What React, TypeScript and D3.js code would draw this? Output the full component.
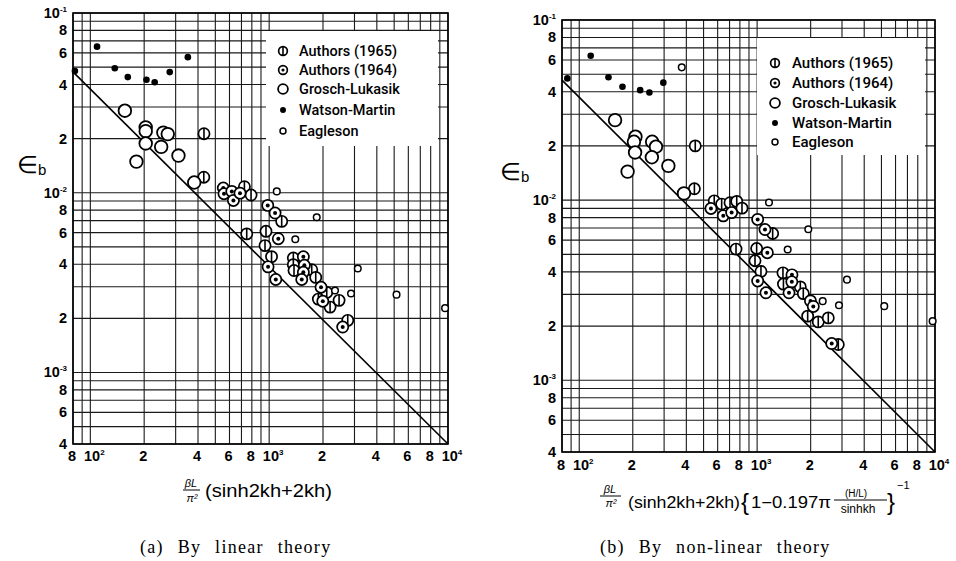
import React from 'react';
import * as d3 from 'd3';

// ---------- tick labels ----------
const xTickValues = [80, 100, 200, 400, 600, 800, 1000, 2000, 4000, 6000, 8000, 10000];
const xTickBase = ['8', '10', '2', '4', '6', '8', '10', '2', '4', '6', '8', '10'];
const xTickSup = ['', '2', '', '', '', '', '3', '', '', '', '', '4'];
const yTickValues = [0.1, 0.08, 0.06, 0.04, 0.02, 0.01, 0.008, 0.006, 0.004, 0.002, 0.001, 0.0008, 0.0006, 0.0004];
const yTickBase = ['10', '8', '6', '4', '2', '10', '8', '6', '4', '2', '10', '8', '6', '4'];
const yTickSup = ['-1', '', '', '', '', '-2', '', '', '', '', '-3', '', '', ''];

const seriesNames = ['Authors (1965)', 'Authors (1964)', 'Grosch-Lukasik', 'Watson-Martin', 'Eagleson'];
const seriesKeys = ['a65', 'a64', 'gl', 'wm', 'eg'];

// ---------- (a) linear theory ----------
const linA1965 = [[432, 0.0213], [431, 0.0122], [727, 0.0108], [792, 0.00971], [1175, 0.00693], [749, 0.0059], [960, 0.0061], [948, 0.00508], [1031, 0.00441], [1365, 0.00433], [1365, 0.00398], [1377, 0.00369], [1730, 0.00373], [1821, 0.00338], [2099, 0.00279], [1884, 0.00256], [2191, 0.00231], [2460, 0.00252], [2750, 0.00195]];
const linA1964 = [[554, 0.01062], [559, 0.00987], [618, 0.01017], [631, 0.00906], [687, 0.00995], [982, 0.0085], [1079, 0.00771], [1125, 0.00555], [986, 0.00387], [1089, 0.00329], [1553, 0.0044], [1573, 0.00395], [1553, 0.00361], [1521, 0.00329], [1950, 0.00298], [1995, 0.00249], [2578, 0.00179]];
const linGL = [[156, 0.0286], [204, 0.0231], [204, 0.022], [204, 0.0188], [256, 0.0216], [271, 0.0212], [249, 0.018], [311, 0.0161], [181, 0.0149], [381, 0.0114]];
const linWM = [[82, 0.0476], [109, 0.065], [137, 0.0493], [162, 0.044], [206, 0.0425], [229, 0.0412], [278, 0.0469], [351, 0.0568]];
const linEG = [[1103, 0.01017], [1845, 0.0073], [1400, 0.00551], [3130, 0.00379], [2335, 0.00286], [2870, 0.00275], [5155, 0.00271], [9630, 0.00228]];
const linFit = [[80, 0.047], [10000, 0.0004]];

// ---------- (b) non-linear theory ----------
const nlA1965 = [[449, 0.02], [444, 0.01156], [574, 0.00991], [632, 0.00951], [704, 0.00968], [768, 0.00984], [822, 0.00903], [1223, 0.00653], [761, 0.00535], [994, 0.00539], [973, 0.00461], [1051, 0.00402], [1397, 0.00395], [1406, 0.00342], [1749, 0.0033], [1818, 0.00303], [1924, 0.00227], [2206, 0.00211], [2512, 0.00222], [2860, 0.00158]];
const nlA1964 = [[550, 0.00899], [645, 0.00818], [719, 0.00853], [1007, 0.00782], [1107, 0.00687], [1141, 0.00511], [1007, 0.00356], [1121, 0.00306], [1570, 0.00385], [1567, 0.00352], [1511, 0.00306], [1995, 0.00276], [2069, 0.00257], [2626, 0.0016]];
const nlGL = [[159, 0.0278], [207, 0.0225], [203, 0.0211], [257, 0.0211], [270, 0.0198], [206, 0.0184], [256, 0.0173], [187, 0.0144], [317, 0.0155], [388, 0.0109]];
const nlWM = [[85.7, 0.0474], [116, 0.0633], [146, 0.0481], [175, 0.0426], [220, 0.0408], [248, 0.0396], [297, 0.0449]];
const nlEG = [[377, 0.0546], [1166, 0.0097], [1940, 0.0069], [1485, 0.00532], [2337, 0.00275], [2885, 0.00261], [3200, 0.00362], [5186, 0.00258], [9700, 0.00213]];
const nlFit = [[80, 0.0464], [10000, 0.0004]];

const SANS = "'Liberation Sans', Arial, sans-serif";
const LEG = "Roboto, 'Liberation Sans', sans-serif";
const SERIF = "'Liberation Serif', 'DejaVu Serif', serif";

function Marker({ type, cx, cy, s = 1 }: { type: string; cx: number; cy: number; s?: number }) {
  if (type === 'a65') {
    const r = 5.6 * s;
    return (
      <g>
        <circle cx={cx} cy={cy} r={r} fill="#fff" stroke="#000" strokeWidth={1.7} />
        <line x1={cx} x2={cx} y1={cy - r} y2={cy + r} stroke="#000" strokeWidth={1.6} />
      </g>
    );
  }
  if (type === 'a64') {
    const r = 5.6 * s;
    return (
      <g>
        <circle cx={cx} cy={cy} r={r} fill="#fff" stroke="#000" strokeWidth={1.7} />
        <circle cx={cx} cy={cy} r={2 * s} fill="#000" />
      </g>
    );
  }
  if (type === 'gl') {
    return <circle cx={cx} cy={cy} r={6.3 * s} fill="#fff" stroke="#000" strokeWidth={1.8} />;
  }
  if (type === 'wm') {
    return <circle cx={cx} cy={cy} r={3.3 * s} fill="#000" />;
  }
  return <circle cx={cx} cy={cy} r={3.3 * s} fill="#fff" stroke="#000" strokeWidth={1.5} />;
}

type Cfg = {
  x0: number; x1: number; y0: number; y1: number;
  leg: { x: number; y: number; w: number; h: number; mx: number; tx: number; rows: number[]; fs: number };
  ylab: { x: number; y: number };
  xlabY: number;
};

function Panel({ cfg, series, fit }: { cfg: Cfg; series: number[][][]; fit: number[][] }) {
  const x = d3.scaleLog().domain([80, 1e4]).range([cfg.x0, cfg.x1]);
  const y = d3.scaleLog().domain([1e-1, 4e-4]).range([cfg.y0, cfg.y1]);
  const gridX: number[] = [];
  const gridY: number[] = [];
  [10, 100, 1000].forEach((d) => d3.range(1, 10).forEach((m) => { if (m * d >= 80) gridX.push(m * d); }));
  gridX.push(10000);
  [0.0001, 0.001, 0.01].forEach((d) => d3.range(1, 10).forEach((m) => { if (m * d >= 0.00039) gridY.push(m * d); }));
  gridY.push(0.1);
  const line = d3.line<number[]>().x((d) => x(d[0])).y((d) => y(d[1]));
  const L = cfg.leg;
  return (
    <g>
      {gridX.map((v, i) => (
        <line key={'gx' + i} x1={x(v)} x2={x(v)} y1={cfg.y0} y2={cfg.y1} stroke="#1a1a1a" strokeWidth={1.1} />
      ))}
      {gridY.map((v, i) => (
        <line key={'gy' + i} x1={cfg.x0} x2={cfg.x1} y1={y(v)} y2={y(v)} stroke="#1a1a1a" strokeWidth={1.1} />
      ))}
      <rect x={cfg.x0} y={cfg.y0} width={cfg.x1 - cfg.x0} height={cfg.y1 - cfg.y0} fill="none" stroke="#000" strokeWidth={1.6} />
      <rect x={L.x} y={L.y} width={L.w} height={L.h} fill="#fff" />
      {seriesNames.map((n, i) => (
        <g key={'l' + i}>
          <Marker type={seriesKeys[i]} cx={L.mx} cy={L.rows[i]} s={i < 3 ? 0.78 : 0.9} />
          <text x={L.tx} y={L.rows[i] + 5} fontFamily={LEG} fontWeight={500} fontSize={L.fs} fill="#000">{n}</text>
        </g>
      ))}
      <path d={line(fit) || ''} fill="none" stroke="#000" strokeWidth={1.6} />
      {series.map((pts, si) =>
        pts.map((p, pi) => <Marker key={si + '-' + pi} type={seriesKeys[si]} cx={x(p[0])} cy={y(p[1])} />)
      )}
      {yTickValues.map((v, i) => (
        <text key={'yt' + i} x={cfg.x0 - 6} y={y(v) + 5} textAnchor="end" fontFamily={SANS} fontWeight="bold" fontSize={14.5}>
          {yTickBase[i]}
          {yTickSup[i] && <tspan dy={-6} fontSize={8}>{yTickSup[i]}</tspan>}
        </text>
      ))}
      {xTickValues.map((v, i) => (
        <text key={'xt' + i} x={x(v) + (xTickSup[i] ? 4 : -1)} y={cfg.xlabY} textAnchor="middle" fontFamily={SANS} fontWeight="bold" fontSize={14.5}>
          {xTickBase[i]}
          {xTickSup[i] && <tspan dy={-6} fontSize={8}>{xTickSup[i]}</tspan>}
        </text>
      ))}
      <text x={cfg.ylab.x} y={cfg.ylab.y} fontFamily={SANS} fontSize={24}>
        ∈<tspan fontSize={15} dy={2}>b</tspan>
      </text>
    </g>
  );
}

const cfgA: Cfg = {
  x0: 73, x1: 448, y0: 13, y1: 444,
  leg: { x: 266, y: 31, w: 172, h: 115, mx: 283, tx: 299, rows: [51, 70, 89, 110, 131], fs: 14.5 },
  ylab: { x: 17, y: 173 },
  xlabY: 461,
};
const cfgB: Cfg = {
  x0: 562, x1: 935, y0: 20, y1: 452,
  leg: { x: 757, y: 38, w: 168, h: 117, mx: 775, tx: 792, rows: [63, 83, 103, 123, 142], fs: 15 },
  ylab: { x: 500, y: 180 },
  xlabY: 470,
};

export default function App() {
  return (
    <svg width={956} height={561} viewBox="0 0 956 561" style={{ position: 'absolute', left: 0, top: 0, background: '#fff' }}>
      <rect x={0} y={0} width={956} height={561} fill="#fff" />
      <Panel cfg={cfgA} series={[linA1965, linA1964, linGL, linWM, linEG]} fit={linFit} />
      <Panel cfg={cfgB} series={[nlA1965, nlA1964, nlGL, nlWM, nlEG]} fit={nlFit} />

      {/* (a) x-axis title */}
      <g fontFamily={SANS}>
        <text x={191} y={487} textAnchor="middle" fontSize={11} fontStyle="italic">βL</text>
        <line x1={183} x2={200} y1={490} y2={490} stroke="#000" strokeWidth={1} />
        <text x={192} y={502} textAnchor="middle" fontSize={11} fontStyle="italic">π²</text>
        <text x={205} y={497} fontSize={18} textLength={127} lengthAdjust="spacingAndGlyphs">(sinh2kh+2kh)</text>
      </g>

      {/* (b) x-axis title */}
      <g fontFamily={SANS}>
        <text x={610} y={493} textAnchor="middle" fontSize={11} fontStyle="italic">βL</text>
        <line x1={600} x2={621} y1={496} y2={496} stroke="#000" strokeWidth={1} />
        <text x={611} y={507} textAnchor="middle" fontSize={11} fontStyle="italic">π²</text>
        <text x={628} y={508} fontSize={16} textLength={112} lengthAdjust="spacingAndGlyphs">(sinh2kh+2kh)</text>
        <text x={741} y={510} fontSize={24} fontWeight={300}>{'{'}</text>
        <text x={751} y={508} fontSize={16} textLength={80} lengthAdjust="spacingAndGlyphs">1−0.197π</text>
        <text x={856} y={497} textAnchor="middle" fontSize={10}>(H/L)</text>
        <line x1={834} x2={887} y1={500} y2={500} stroke="#000" strokeWidth={1} />
        <text x={858} y={513} textAnchor="middle" fontSize={12}>sinhkh</text>
        <text x={887} y={510} fontSize={24} fontWeight={300}>{'}'}</text>
        <text x={897} y={489} fontSize={11}>−1</text>
      </g>

      {/* captions */}
      <text x={140} y={553} fontFamily={SERIF} fontSize={18} style={{ wordSpacing: '8px', letterSpacing: '1.3px' }}>(a) By linear theory</text>
      <text x={600} y={553} fontFamily={SERIF} fontSize={18} style={{ wordSpacing: '8px', letterSpacing: '1.3px' }}>(b) By non-linear theory</text>
    </svg>
  );
}
